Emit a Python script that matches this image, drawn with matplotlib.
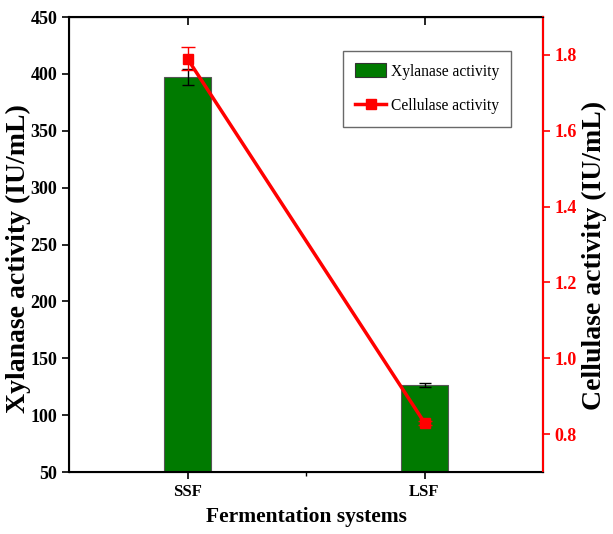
import matplotlib
matplotlib.use("Agg")
import matplotlib.pyplot as plt
from matplotlib.ticker import MultipleLocator, FixedLocator
from matplotlib.lines import Line2D
from matplotlib.patches import Patch

categories = ["SSF", "LSF"]
xylanase = [397, 126.5]
xylanase_err = [7, 2]
cellulase = [1.79, 0.83]
cellulase_err = [0.03, 0.005]

plt.rcParams['font.family'] = ['Liberation Serif', 'DejaVu Serif']

fig = plt.figure(figsize=(6.13, 5.34), dpi=100)
ax = fig.add_axes([0.1126, 0.1161, 0.7732, 0.8519])
x = list(range(len(categories)))
ax.bar(x, xylanase, width=0.2, color='#007a00', edgecolor='#555555', linewidth=0.8,
       yerr=xylanase_err, capsize=4, error_kw=dict(ecolor='black', elinewidth=1, capthick=1),
       zorder=2)
ax.set_xlim(-0.5, 1.5)
ax.set_ylim(50, 450)
ax.yaxis.set_major_locator(MultipleLocator(50))
ax.set_xticks(x)
ax.set_xticklabels(categories)
ax.xaxis.set_minor_locator(FixedLocator([0.5]))
ax.tick_params(axis='both', direction='out', length=5, width=1.2, labelsize=13)
ax.tick_params(axis='x', labelsize=12)
ax.tick_params(axis='x', which='minor', direction='out', length=3, width=1.0)
for lab in ax.get_xticklabels() + ax.get_yticklabels():
    lab.set_fontweight('bold')
for s in ax.spines.values():
    s.set_linewidth(1.5)
ax.set_xlabel('Fermentation systems', fontsize=15.5, fontweight='bold', labelpad=5)
ax.set_ylabel('Xylanase activity (IU/mL)', fontsize=20, fontweight='bold')
ax.yaxis.set_label_coords(-0.080, 0.47)

sec = ax.secondary_xaxis('top')
sec.set_xticks(x)
sec.set_xticklabels([])
sec.tick_params(direction='in', length=6, width=1.2)

ax2 = ax.twinx()
ax2.errorbar(x, cellulase, yerr=cellulase_err, color='red', lw=2.5, marker='s', markersize=7,
             capsize=5, elinewidth=1, capthick=1, zorder=3)
ax2.set_ylim(0.7, 1.9)
ax2.set_yticks([0.8, 1.0, 1.2, 1.4, 1.6, 1.8])
ax2.tick_params(axis='y', colors='red', direction='out', length=5, width=1.2, labelsize=13)
for lab in ax2.get_yticklabels():
    lab.set_fontweight('bold')
ax2.spines['right'].set_color('red')
ax2.spines['right'].set_linewidth(1.5)
ax2.set_ylabel('Cellulase activity (IU/mL)', fontsize=20, fontweight='bold')
ax2.yaxis.set_label_coords(1.082, 0.475)

handles = [Patch(facecolor='#007a00', edgecolor='#333333', linewidth=0.8),
           Line2D([0], [0], color='red', lw=2.5, marker='s', markersize=7)]
labels = ['Xylanase activity', 'Cellulase activity']
leg = ax2.legend(handles, labels, loc='upper left', bbox_to_anchor=(0.578, 0.925),
                 fontsize=11.2, frameon=True, fancybox=False, edgecolor='#444444',
                 borderpad=0.78, labelspacing=1.19, handlelength=2.0, handleheight=1.0,
                 handletextpad=0.3, borderaxespad=0)
leg.get_frame().set_linewidth(1.0)

fig.savefig('out.png', dpi=100)
